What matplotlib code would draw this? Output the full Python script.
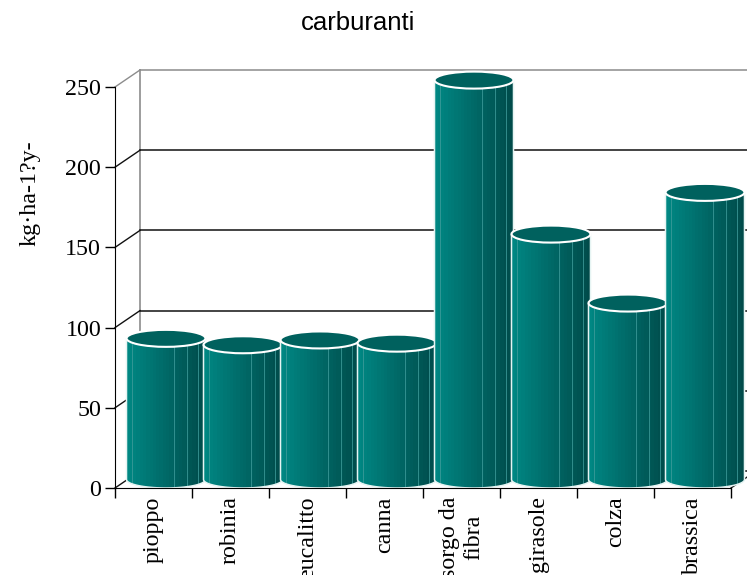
import numpy as np
import matplotlib
matplotlib.use("Agg")
import matplotlib.pyplot as plt
from matplotlib.patches import Ellipse, PathPatch
from matplotlib.path import Path
from matplotlib.colors import to_rgb

# ---- data ----
categories = ["pioppo", "robinia", "eucalitto", "canna", "sorgo da\nfibra",
              "girasole", "colza", "brassica"]
values = [88, 84, 87, 85, 249, 153, 110, 179]
yticks = [0, 50, 100, 150, 200, 250]
title = "carburanti"
ylabel = "kg·ha-1?y-"

SERIF = "Liberation Serif"
SANS = "Liberation Sans"
FS = 17.3

fig = plt.figure(figsize=(7.47, 5.75), dpi=100)
ax = fig.add_axes([115/747, 87/575, 616/747, 401/575])
ax.set_xlim(0, len(categories))
ax.set_ylim(0, 250)

# 3D depth offset (data units)
DX = 25 / 77.0
DY = 17 / (401 / 250.0)
EY = DY / 2.0

# back wall & grid
wall_col = "#8c8c8c"
ax.plot([DX, DX], [DY, 250 + DY], color=wall_col, lw=1.2, clip_on=False, zorder=1)
for v in yticks:
    col = wall_col if v == 250 else "#111111"
    ax.plot([DX, len(categories) + 0.5], [v + DY, v + DY], color=col, lw=1.1,
            clip_on=False, zorder=1)
    ax.plot([0, DX], [v, v + DY], color=col, lw=1.0, clip_on=False, zorder=1)
ax.plot([len(categories), len(categories) + DX], [0, DY], color="#111111", lw=1.0,
        clip_on=False, zorder=1)

# cylinders
c_left = np.array(to_rgb("#008884"))
c_mid = np.array(to_rgb("#006c6a"))
c_right = np.array(to_rgb("#004a49"))
N = 24
r = 79 / 77.0 / 2.0
for i, v in enumerate(values):
    cx = i + 0.5 + DX / 2.0
    z = 3 + i * 0.1
    top = v + EY
    th = np.linspace(np.pi, 2 * np.pi, 60)
    arc = np.column_stack([cx + r * np.cos(th), EY + EY * np.sin(th)])
    verts = np.vstack([[cx - r, top], arc, [cx + r, top], [cx - r, top]])
    body = PathPatch(Path(verts), facecolor="none", edgecolor="none",
                     transform=ax.transData, clip_on=False)
    ax.add_patch(body)
    xs = np.linspace(cx - r, cx + r, N + 1)
    centers = (xs[:-1] + xs[1:]) / 2
    t = (centers - (cx - r)) / (2 * r)
    cols = []
    for tt in t:
        if tt < 0.45:
            c = c_left + (c_mid - c_left) * (tt / 0.45)
        else:
            c = c_mid + (c_right - c_mid) * ((tt - 0.45) / 0.55)
        cols.append(c)
    bars = ax.bar(centers, top, width=(2 * r) / N * 1.02, bottom=0, color=cols,
                  linewidth=0, zorder=z)
    for b in bars:
        b.set_clip_path(body)
        b.set_clip_box(None)
    for f in [0.07, 0.6, 0.77, 0.9]:
        ln, = ax.plot([cx - r + f * 2 * r] * 2, [0, top], color="#3f9c9a", lw=0.7,
                      alpha=0.8, zorder=z + 0.01)
        ln.set_clip_path(body)
        ln.set_clip_box(None)
    outline = PathPatch(Path(verts), facecolor="none", edgecolor="#e6f4f3", lw=1.1,
                        zorder=z + 0.02, clip_on=False)
    ax.add_patch(outline)
    ax.add_patch(Ellipse((cx, top), 2 * r, 2 * EY, facecolor="#00615e",
                         edgecolor="white", lw=1.5, zorder=z + 0.03, clip_on=False))

# axes styling
for s in ["top", "right"]:
    ax.spines[s].set_visible(False)
ax.spines["left"].set_color("black")
ax.spines["bottom"].set_color("black")
ax.spines["left"].set_zorder(10)
ax.spines["bottom"].set_zorder(10)
ax.set_yticks(yticks)
ax.set_yticklabels([str(v) for v in yticks], fontfamily=SERIF, fontsize=FS)
ax.tick_params(axis="y", length=7, width=1, pad=3, direction="out")
ax.set_xticks(range(len(categories) + 1))
ax.set_xticklabels([])
ax.tick_params(axis="x", which="major", length=7, width=1, direction="out")
ax.set_xticks([i + 0.5 for i in range(len(categories))], minor=True)
ax.set_xticklabels(categories, minor=True, rotation=90, fontfamily=SERIF,
                   fontsize=FS, ha="center", va="top", multialignment="center")
ax.tick_params(axis="x", which="minor", length=0, pad=6)
ax.patch.set_visible(False)

fig.text(30/747, 1 - 193/575, ylabel, rotation=90, ha="center", va="center",
         fontfamily=SERIF, fontsize=FS)
fig.text(358/747, 1 - 23/575, title, ha="center", va="center",
         fontfamily=SANS, fontsize=18.5)

fig.savefig("out.png", dpi=100)
